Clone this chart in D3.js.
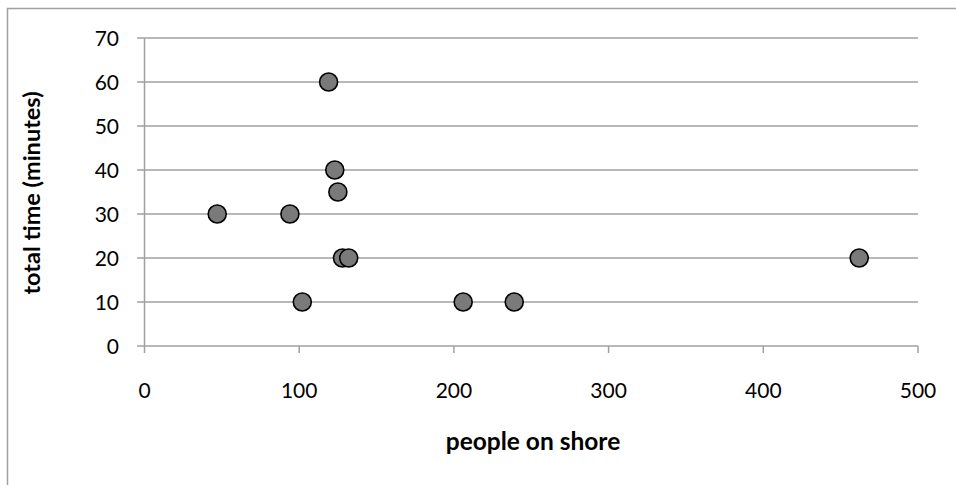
<!DOCTYPE html>
<html>
<head>
<meta charset="utf-8">
<script src="https://cdn.jsdelivr.net/npm/d3@7"></script>
<style>
  html, body { margin: 0; padding: 0; background: #fff; }
  svg { display: block; }
  text { font-family: Lato, "Open Sans", sans-serif; fill: #000; }
</style>
</head>
<body>
<svg id="chart" width="956" height="485"></svg>
<script>
// Survey: people on shore vs. total time (minutes)
const peopleOnShore = [47, 94, 102, 119, 123, 125, 128, 132, 206, 239, 462];
const totalMinutes  = [30, 30, 10, 60, 40, 35, 20, 20, 10, 10, 20];
const xTicks = [0, 100, 200, 300, 400, 500];
const yTicks = [0, 10, 20, 30, 40, 50, 60, 70];
const xTitle = "people on shore";
const yTitle = "total time (minutes)";

const svg = d3.select("#chart");
const gridColor = "#a0a0a0";

// outer chart frame (only top and left edges fall inside the view)
svg.append("path")
  .attr("d", "M7.5,485 V8.5 H956")
  .attr("fill", "none")
  .attr("stroke", gridColor)
  .attr("stroke-width", 1.5);

const x = d3.scaleLinear().domain([0, 500]).range([144.5, 918]);
const y = d3.scaleLinear().domain([0, 70]).range([346, 38]);

// horizontal gridlines (extend left as tick marks)
svg.append("g").selectAll("line").data(yTicks).join("line")
  .attr("x1", 137).attr("x2", x(500))
  .attr("y1", d => y(d)).attr("y2", d => y(d))
  .attr("stroke", gridColor).attr("stroke-width", 1.5);

// y axis line
svg.append("line")
  .attr("x1", x(0)).attr("x2", x(0))
  .attr("y1", y(70)).attr("y2", y(0))
  .attr("stroke", gridColor).attr("stroke-width", 1.5);

// x tick marks
svg.append("g").selectAll("line").data(xTicks).join("line")
  .attr("x1", d => x(d)).attr("x2", d => x(d))
  .attr("y1", y(0)).attr("y2", y(0) + 7)
  .attr("stroke", gridColor).attr("stroke-width", 1.5);

// y tick labels
svg.append("g").selectAll("text").data(yTicks).join("text")
  .attr("x", 119).attr("y", d => y(d) + 8)
  .attr("text-anchor", "end")
  .style("font-size", "21px")
  .text(d => d);

// x tick labels
svg.append("g").selectAll("text").data(xTicks).join("text")
  .attr("x", d => x(d)).attr("y", 398)
  .attr("text-anchor", "middle")
  .style("font-size", "21px")
  .text(d => d);

// axis titles
svg.append("text")
  .attr("x", 533).attr("y", 450)
  .attr("text-anchor", "middle")
  .style("font-size", "24.5px").style("font-weight", "bold")
  .text(xTitle);

svg.append("text")
  .attr("transform", "translate(40,193) rotate(-90)")
  .attr("text-anchor", "middle")
  .style("font-size", "23.5px").style("font-weight", "bold")
  .text(yTitle);

// markers
const pts = peopleOnShore.map((v, i) => ({ px: v, py: totalMinutes[i] }));
svg.append("g").selectAll("circle").data(pts).join("circle")
  .attr("cx", d => x(d.px)).attr("cy", d => y(d.py))
  .attr("r", 9)
  .attr("fill", "#7a7a7a")
  .attr("stroke", "#000")
  .attr("stroke-width", 1.6);
</script>
</body>
</html>
